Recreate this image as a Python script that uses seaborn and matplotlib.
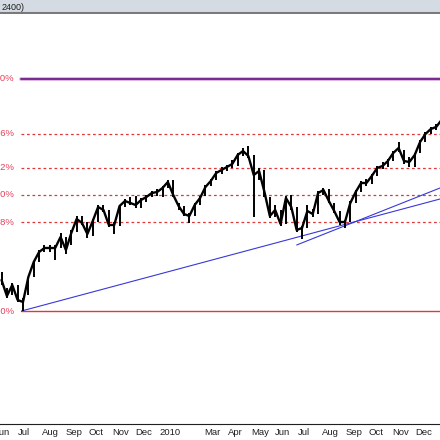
import pandas as pd
import numpy as np
import matplotlib
matplotlib.use("Agg")
import matplotlib.pyplot as plt
import matplotlib.dates as mdates
import matplotlib.transforms as mtransforms
import seaborn as sns

# weekly bars (Fridays, Jun 2009 - Jan 2011)
week_start = "2009-06-12"
close = [1077.5, 1037.5, 1065, 1027.5, 1022.5, 1085, 1122.5, 1147.5, 1157.5, 1157.5,
         1157.5, 1185, 1152.5, 1195, 1230, 1220, 1192.5, 1225, 1260, 1252.5,
         1215, 1215, 1262.5, 1275, 1270, 1265, 1277.5, 1285, 1295, 1297.5,
         1307.5, 1322.5, 1290, 1262.5, 1242.5, 1237.5, 1265, 1282.5, 1310, 1325,
         1345, 1352.5, 1360, 1367.5, 1390, 1400, 1387.5, 1340, 1350, 1297.5,
         1237.5, 1252.5, 1217.5, 1282.5, 1260, 1202.5, 1207.5, 1250, 1242.5, 1295,
         1302.5, 1275, 1250, 1222.5, 1222.5, 1270, 1297.5, 1320, 1320, 1337.5,
         1357.5, 1362.5, 1375, 1395, 1407.5, 1375, 1372.5, 1390, 1422.5, 1442.5,
         1455, 1460, 1477.5]
high = [1097.5, 1057.5, 1070, 1065, 1032.5, 1085, 1122.5, 1152.5, 1165, 1165,
        1165, 1195, 1185, 1202.5, 1237.5, 1237.5, 1222.5, 1230, 1265, 1265,
        1252.5, 1222.5, 1265, 1280, 1285, 1287.5, 1282.5, 1290, 1300, 1305,
        1312.5, 1327.5, 1327.5, 1270, 1262.5, 1245, 1270, 1287.5, 1315, 1330,
        1350, 1360, 1365, 1377.5, 1395, 1407.5, 1412.5, 1390, 1357.5, 1352.5,
        1285, 1265, 1252.5, 1287.5, 1290, 1260, 1212.5, 1265, 1255, 1300,
        1307.5, 1305, 1270, 1250, 1227.5, 1275, 1302.5, 1325, 1330, 1342.5,
        1362.5, 1372.5, 1380, 1400, 1422.5, 1402.5, 1385, 1395, 1427.5, 1447.5,
        1460, 1467.5, 1482.5]
low = [1065, 1032.5, 1040, 1022.5, 1000, 1040, 1085, 1122.5, 1147.5, 1147.5,
       1127.5, 1157.5, 1142.5, 1165, 1197.5, 1215, 1182.5, 1187.5, 1222.5, 1247.5,
       1210, 1192.5, 1212.5, 1260, 1265, 1257.5, 1257.5, 1272.5, 1285, 1287.5,
       1285, 1307.5, 1285, 1252.5, 1237.5, 1220, 1237.5, 1265, 1287.5, 1312.5,
       1327.5, 1342.5, 1350, 1357.5, 1362.5, 1387.5, 1382.5, 1235, 1327.5, 1285,
       1232.5, 1235, 1212.5, 1217.5, 1252.5, 1197.5, 1180, 1207.5, 1235, 1242.5,
       1290, 1270, 1245, 1215, 1207.5, 1222.5, 1270, 1297.5, 1312.5, 1317.5,
       1337.5, 1355, 1360, 1375, 1397.5, 1367.5, 1360, 1360, 1395, 1422.5,
       1442.5, 1452.5, 1462.5]

# fibonacci retracement between swing high (top) and Jul 2009 low
fib_start = "2009-07-08"
fib_high = 1580
fib_low = 1000
fib_pcts = [0.0, 23.6, 38.2, 50.0, 61.8, 100.0]

# trendlines (date, value) anchors
trend1_dates = ["2009-07-08", "2011-01-05"]
trend1_vals = [1000, 1280]
trend2_dates = ["2010-07-02", "2011-01-05"]
trend2_vals = [1165, 1307.5]

month_names = ["Jan", "Feb", "Mar", "Apr", "May", "Jun", "Jul", "Aug", "Sep", "Oct", "Nov", "Dec"]

dates = pd.date_range(week_start, periods=len(close), freq="7D")
df = pd.DataFrame({"date": dates, "close": close, "high": high, "low": low})

sns.set_style("white")
plt.rcParams["font.family"] = ["Liberation Sans", "DejaVu Sans"]

fig = plt.figure(figsize=(4.4, 4.4), dpi=100)

# header strip
hdr = fig.add_axes([0, 1 - 13 / 440, 1, 13 / 440])
hdr.set_facecolor("#d5dbe3")
hdr.set_xticks([])
hdr.set_yticks([])
for s in ["left", "right", "top"]:
    hdr.spines[s].set_visible(False)
hdr.spines["bottom"].set_color("#7a7a7a")
hdr.spines["bottom"].set_linewidth(1.5)
hdr.text(0.004, 0.45, "2400)", fontsize=6.5, color="#202020", va="center", ha="left")

ax = fig.add_axes([0, 16 / 440, 1, 410 / 440])
ax.set_xlim(pd.Timestamp("2009-06-10"), pd.Timestamp("2011-01-05"))
ax.set_ylim(717.5, 1742.5)

# fib levels
fib_x0 = pd.Timestamp(fib_start)
fib_x1 = pd.Timestamp("2011-02-01")
for p in fib_pcts:
    lvl = fib_high - (fib_high - fib_low) * p / 100
    if p == 0.0:
        ax.plot([fib_x0, fib_x1], [lvl, lvl], color="#d8a8dc", lw=2.6, zorder=2)
        ax.plot([fib_x0, fib_x1], [lvl, lvl], color="#6e2088", lw=1.3, zorder=3)
    elif p == 100.0:
        ax.plot([fib_x0, fib_x1], [lvl, lvl], color="#e03838", lw=1.0, zorder=2)
    else:
        ax.plot([fib_x0, fib_x1], [lvl, lvl], color="#e03838", lw=0.9,
                dashes=(2.2, 2.2), zorder=2)
    off = mtransforms.offset_copy(ax.transData, fig=fig, x=-5, y=0, units="points")
    ax.text(fib_x0, lvl, f"{p:.1f}%", color="#e8405a", fontsize=6.8,
            ha="right", va="center", transform=off)

# trendlines
ax.plot(pd.to_datetime(trend1_dates), trend1_vals, color="#3838d8", lw=0.8, zorder=4)
ax.plot(pd.to_datetime(trend2_dates), trend2_vals, color="#3838d8", lw=0.8, zorder=4)

# price bars
ax.vlines(df["date"], df["low"], df["high"], color="black", lw=1.4, zorder=5)
sns.lineplot(data=df, x="date", y="close", ax=ax, color="black", lw=1.7, zorder=6)

# axes styling
for s in ["left", "right", "top"]:
    ax.spines[s].set_visible(False)
ax.spines["bottom"].set_color("#202020")
ax.spines["bottom"].set_linewidth(0.8)
ax.set_yticks([])
ax.set_xlabel("")
ax.set_ylabel("")

ax.xaxis.set_major_locator(mdates.MonthLocator())
ax.xaxis.set_minor_locator(mdates.WeekdayLocator(byweekday=mdates.MO))

def fmt(x, pos=None):
    d = mdates.num2date(x)
    if d.month == 1:
        return str(d.year)
    if d.month == 2:
        return ""
    return month_names[d.month - 1]

ax.xaxis.set_major_formatter(plt.FuncFormatter(fmt))
ax.tick_params(axis="x", which="major", direction="out", length=14, width=0.7,
               color="#303030", pad=-11, labelsize=6.8, labelcolor="#202020")
ax.tick_params(axis="x", which="minor", direction="out", length=2, width=0.6,
               color="#303030")
shift = mtransforms.ScaledTranslation(1.5 / 72, 0, fig.dpi_scale_trans)
for lab in ax.get_xticklabels():
    lab.set_horizontalalignment("left")
    lab.set_transform(lab.get_transform() + shift)

# June 2009 label, partly off the left edge as in the source
jun_tf = mtransforms.blended_transform_factory(ax.transData, ax.transAxes) + shift
ax.text(pd.Timestamp("2009-06-01"), -8.5 / 410, "Jun", fontsize=6.8, color="#202020",
        ha="left", va="center", transform=jun_tf, clip_on=False)

fig.savefig("out.png", dpi=100)
